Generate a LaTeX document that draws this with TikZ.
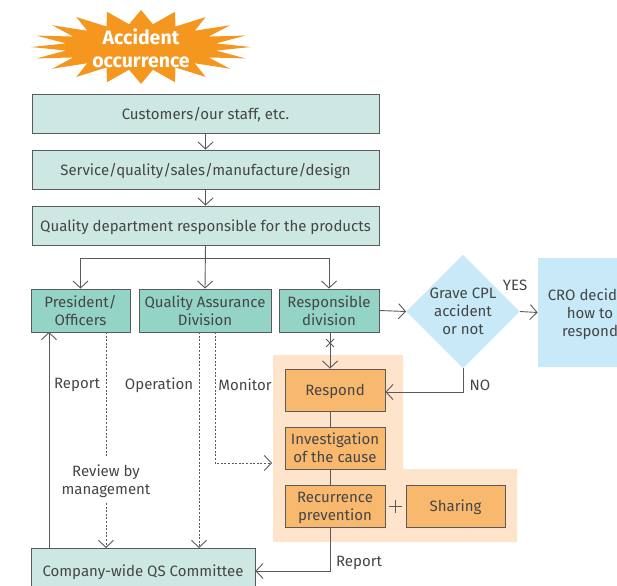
\documentclass[tikz,border=0pt]{standalone}
\usepackage{fontspec}
\setmainfont{Fira Sans}
\usetikzlibrary{arrows.meta,shapes.geometric}

\definecolor{linegray}{HTML}{5A5A5A}
\definecolor{txt}{HTML}{454545}
\definecolor{mint}{HTML}{CDE8E2}
\definecolor{teal}{HTML}{93D4C7}
\definecolor{orangebox}{HTML}{F8B96F}
\definecolor{peach}{HTML}{FDE4CB}
\definecolor{skyblue}{HTML}{C8E9F8}
\definecolor{burst}{HTML}{F5961F}

\tikzset{
  basebox/.style={draw=linegray, line width=0.8pt, text=txt, align=center,
    inner sep=0pt, text depth=0pt, font=\fontsize{15}{18}\selectfont},
  lightbox/.style={basebox, fill=mint, minimum width=347pt, minimum height=39pt},
  unitbox/.style={basebox, fill=teal, minimum height=43pt},
  stepbox/.style={basebox, fill=orangebox, minimum width=100pt, minimum height=42pt},
  label/.style={text=txt, font=\fontsize{15}{18}\selectfont, inner sep=0pt, align=center},
  conn/.style={draw=linegray, line width=0.9pt},
  arr/.style={conn, -{Straight Barb[length=7pt,width=15pt,line width=0.9pt]}},
  dashconn/.style={conn, dash pattern=on 2pt off 1.6pt},
  dasharr/.style={arr, dash pattern=on 2pt off 1.6pt},
}

\begin{document}
\begin{tikzpicture}[x=1pt,y=-1pt]
\useasboundingbox (0,0) rectangle (617,585);
\clip (0,0) rectangle (617,585);

% starburst
\fill[burst] (141+110,47)
  \foreach \i [evaluate=\i as \rx using {mod(\i,2)==0 ? 110 : 76},
               evaluate=\i as \ry using {mod(\i,2)==0 ? 37 : 23}] in {1,...,39}
  { -- ({141+\rx*cos(\i*9)},{47+\ry*sin(\i*9)}) } -- cycle;
\node[text=white, font=\fontsize{19.5}{23}\selectfont\bfseries, align=center] (acc) at (141,48) {Accident\\occurrence};

% peach background around the response steps
\fill[peach] (273,355) -- (403,355) -- (403,469) -- (517,469) -- (517,542) -- (273,542) -- cycle;

% top chain
\node[lightbox] (c1) at (205.5,113.5) {Customers/our staff, etc.};
\node[lightbox] (c2) at (205.5,169.5) {Service/quality/sales/manufacture/design};
\node[lightbox] (c3) at (205.5,225.5) {Quality department responsible for the products};

% units
\node[unitbox, minimum width=99pt] (pres) at (80.5,310.5) {President/\\Officers};
\node[unitbox, minimum width=132pt] (qa) at (205,310.5) {Quality Assurance\\Division};
\node[unitbox, minimum width=100pt] (resp) at (329,310.5) {Responsible\\division};

% decision
\node[diamond, fill=skyblue, minimum width=108pt, minimum height=109pt, inner sep=0pt,
      label, align=center] (dec) at (463,311.5) {Grave CPL\\accident\\or not};
\node[basebox, draw=none, fill=skyblue, minimum width=104pt, minimum height=109pt] (cro) at (590,312.5) {CRO decides\\how to\\respond};

% response steps
\node[stepbox] (respond) at (335,390) {Respond};
\node[stepbox] (invest) at (335,448) {Investigation\\of the cause};
\node[stepbox] (recur) at (335,506) {Recurrence\\prevention};
\node[stepbox, minimum width=99pt] (share) at (455.5,506) {Sharing};

% committee
\node[basebox, fill=mint, minimum width=224pt, minimum height=46pt] (qs) at (143,571) {Company-wide QS Committee};

% connectors of the top chain
\draw[arr] (c1.south) -- (c2.north);
\draw[arr] (c2.south) -- (c3.north);
\coordinate (j) at (205.5,258);
\draw[arr] (c3.south) -- (qa.north);
\draw[arr] (j) -| (pres.north);
\draw[arr] (j) -| (resp.north);

% decision branch
\draw[arr] (resp.east) -- (dec.west);
\draw[arr] (dec.east) -- (cro.west);
\node[label] (yes) at (515,285) {YES};
\coordinate (nocorner) at (dec.south |- 0,392);
\draw[arr] (dec.south) -- (nocorner) -- (respond.east |- nocorner);
\node[label] (no) at (480,385) {NO};

% responsible division to respond, marked with a cross
\coordinate (rs) at (330,332);
\draw[arr] (rs) -- (rs |- respond.north);
\draw[conn] (326,339) -- (334,347) (326,347) -- (334,339);

% chain of steps
\draw[conn] (330,411) -- (330,427);
\draw[conn] (330,469) -- (330,485);
\draw[conn] (388.5,506) -- (401.5,506) (395,499.5) -- (395,512.5);

% report back to the committee
\coordinate (rb) at (330,571);
\draw[arr] (330,527) -- (rb) -- (qs.east);
\node[label] (rep2) at (359,563) {Report};

% president reporting line
\coordinate (pup) at (49,332);
\draw[arr] (pup |- qs.north) -- (pup);

% review by management
\coordinate (rv) at (106,332);
\node[label] (rev) at (106,481) {Review by\\management};
\draw[dashconn] (rv) -- (106,458);
\draw[dasharr] (106,503) -- (106,548);
\node[label] (rep1) at (77,385) {Report};

% operation and monitor
\draw[dasharr] (199,332) -- (199,548);
\node[label] (op) at (159,385) {Operation};
\coordinate (mc) at (215,463);
\draw[dasharr] (215,332) -- (mc) -- (272,463);
\node[label] (mon) at (245,385) {Monitor};
\end{tikzpicture}
\end{document}
